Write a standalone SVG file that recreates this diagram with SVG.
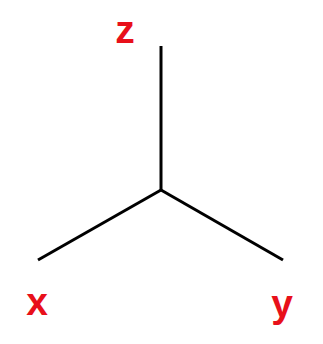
<svg xmlns="http://www.w3.org/2000/svg" width="323" height="344" viewBox="0 0 323 344">
<style>
.lbl{font-family:"Liberation Sans",Arial,sans-serif;font-weight:bold;font-size:39px;fill:#e8101a;text-anchor:middle}
.ln{stroke:#000;stroke-width:3;fill:none;stroke-linecap:butt;stroke-linejoin:miter}
</style>
<rect width="323" height="344" fill="#fff"/>
<g id="connectors">
<path class="ln" d="M161,46 V190"/>
<path class="ln" d="M161,190 L38,260"/>
<path class="ln" d="M161,190 L283,260"/>
</g>
<g id="z"><text class="lbl" x="125" y="43">z</text></g>
<g id="x"><text class="lbl" x="37" y="315">x</text></g>
<g id="y"><text class="lbl" x="282" y="317">y</text></g>
</svg>
